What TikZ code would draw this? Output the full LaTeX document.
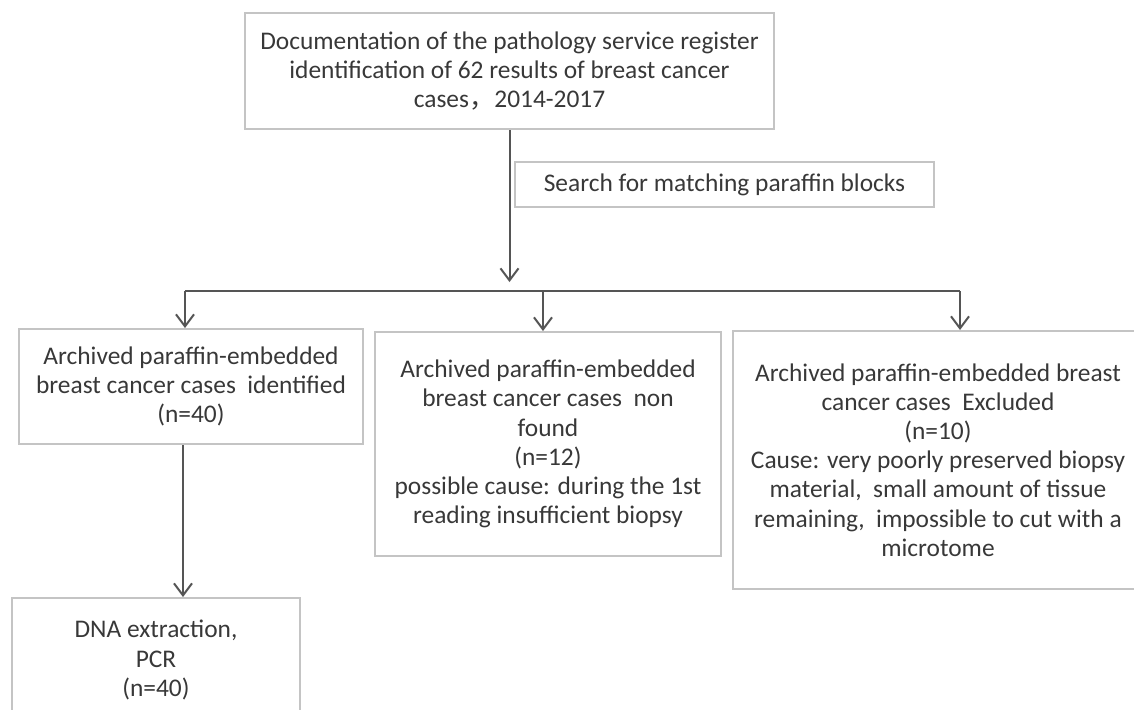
\documentclass[tikz,border=0pt]{standalone}
\usepackage{fontspec}
\setmainfont{Carlito}
\newfontfamily\cjk{Noto Sans CJK SC}
\usetikzlibrary{arrows.meta}
\definecolor{boxgray}{HTML}{C4C4C4}
\definecolor{txtgray}{HTML}{383838}
\definecolor{arrgray}{HTML}{555555}
\def\sp{\ \ }
\begin{document}
\begin{tikzpicture}[x=0.5pt,y=-0.5pt,every node/.style={align=center,text=txtgray,font=\fontsize{12.7}{14.6}\selectfont},box/.style={draw=boxgray,line width=1pt,inner sep=0pt},arr/.style={draw=arrgray,line width=1pt,-{Straight Barb[length=6pt,width=9pt]}}]
\useasboundingbox (0,0) rectangle (1134,709);
\clip (0,0) rectangle (1134,709);

\node[box,minimum width=264.5pt,minimum height=58pt] (reg) at (509.5,71) {Documentation of the pathology service register\\identification of 62 results of breast cancer\\cases{\cjk ，}2014-2017};
\node[box,minimum width=209.5pt,minimum height=22.5pt] (search) at (724.5,184.5) {Search for matching paraffin blocks};

\node[box,minimum width=172pt,minimum height=57.5pt] (found) at (191,386.5) {Archived paraffin-embedded\\breast cancer cases\sp identified\\(n=40)};
\node[box,minimum width=173pt,minimum height=112pt] (notfound) at (548,444) {Archived paraffin-embedded\\breast cancer cases\sp non\\found\\(n=12)\\possible cause: during the 1st\\reading insufficient biopsy};
\node[box,minimum width=205pt,minimum height=129pt] (excluded) at (938,460) {Archived paraffin-embedded breast\\cancer cases\sp Excluded\\(n=10)\\Cause: very poorly preserved biopsy\\material,\sp small amount of tissue\\remaining,\sp impossible to cut with a\\microtome};
\node[box,minimum width=144pt,minimum height=62pt] (dna) at (156,660) {DNA extraction,\\PCR\\(n=40)};

% split bar
\coordinate (split) at (509.5,282);
\coordinate (barL) at (185,291);
\coordinate (barM) at (543,291);
\coordinate (barR) at (960,291);
\draw[arr] (reg.south) -- (split);
\draw[draw=arrgray,line width=1pt] (barL) -- (barR);
\draw[arr] (barL) -- (barL |- found.north);
\draw[arr] (barM) -- (barM |- notfound.north);
\draw[arr] (barR) -- (barR |- excluded.north);
\draw[arr] ([xshift=-4pt]found.south) -- ([xshift=-4pt]found.south |- dna.north);
\end{tikzpicture}
\end{document}
